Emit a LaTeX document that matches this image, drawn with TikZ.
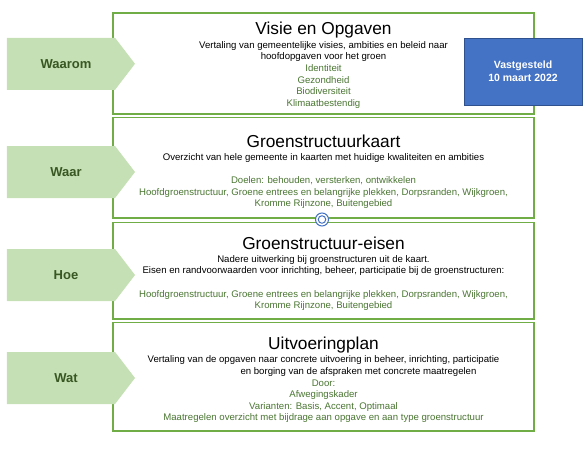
\documentclass[tikz,border=0pt]{standalone}
\usepackage{fontspec}
\setmainfont{Liberation Sans}
\usepackage{tikz}
\usetikzlibrary{shapes.symbols}
\definecolor{boxgreen}{HTML}{70AD47}
\definecolor{arrowgreen}{HTML}{C5E0B4}
\definecolor{darkgreen}{HTML}{385723}
\definecolor{textgreen}{HTML}{4A7632}
\definecolor{fillblue}{HTML}{4472C4}
\definecolor{lineblue}{HTML}{2F528F}
\tikzset{>=latex}
\tikzstyle{block}=[rectangle,draw=boxgreen,line width=1.3pt,fill=white,minimum width=421pt,inner sep=0pt]
\tikzstyle{question}=[signal,signal to=east,signal pointer angle=105,fill=arrowgreen,minimum width=128pt,minimum height=52pt,inner sep=0pt,font=\fontsize{13}{15}\selectfont\bfseries,text=darkgreen,execute at begin node=\hspace*{10pt}]
\tikzstyle{title}=[anchor=base,inner sep=0pt,font=\fontsize{17.3}{20}\selectfont]
\tikzstyle{body}=[anchor=north,inner sep=0pt,align=center,font=\fontsize{9.6}{11.6}\selectfont]
\tikzstyle{stamp}=[rectangle,draw=lineblue,fill=fillblue,minimum width=118pt,minimum height=67pt,align=center,text=white,font=\fontsize{10.5}{13}\selectfont\bfseries]
\tikzstyle{ring}=[circle,draw=fillblue,line width=1pt,fill=white,inner sep=0pt]

\begin{document}
\begin{tikzpicture}[x=1pt,y=-1pt]
	\useasboundingbox (0,0) rectangle (586,452);
	% the four blocks
	\node[block, minimum height=101pt] (visie) at (323.5, 63.5) {};
	\node[block, minimum height=100.3pt] (kaart) at (323.5, 167.9) {};
	\node[block, minimum height=96.3pt] (eisen) at (323.5, 270.9) {};
	\node[block, minimum height=108.3pt] (plan) at (323.5, 376.9) {};
	
	\node[title] (visietitle) at (323.5, 35) {Visie en Opgaven};
	\node[body] (visietext) at (323.5, 41.2) {Vertaling van gemeentelijke visies, ambities en beleid naar\\
		hoofdopgaven voor het groen\\
		\textcolor{textgreen}{Identiteit}\\
		\textcolor{textgreen}{Gezondheid}\\
		\textcolor{textgreen}{Biodiversiteit}\\
		\textcolor{textgreen}{Klimaatbestendig}};
	
	\node[title] (kaarttitle) at (323.5, 147) {Groenstructuurkaart};
	\node[body] (kaarttext) at (323.5, 153.2) {Overzicht van hele gemeente in kaarten met huidige kwaliteiten en ambities\\[11.6pt]
		\textcolor{textgreen}{Doelen: behouden, versterken, ontwikkelen}\\
		\textcolor{textgreen}{Hoofdgroenstructuur, Groene entrees en belangrijke plekken, Dorpsranden, Wijkgroen,}\\
		\textcolor{textgreen}{Kromme Rijnzone, Buitengebied}};
	
	\node[title] (eisentitle) at (323.5, 249) {Groenstructuur-eisen};
	\node[body] (eisentext) at (323.5, 255.2) {Nadere uitwerking bij groenstructuren uit de kaart.\\
		Eisen en randvoorwaarden voor inrichting, beheer, participatie bij de groenstructuren:\\[11.6pt]
		\textcolor{textgreen}{Hoofdgroenstructuur, Groene entrees en belangrijke plekken, Dorpsranden, Wijkgroen,}\\
		\textcolor{textgreen}{Kromme Rijnzone, Buitengebied}};
	
	\node[title] (plantitle) at (323.5, 349) {Uitvoeringplan};
	\node[body] (plantext) at (323.5, 355.7) {Vertaling van de opgaven naar concrete uitvoering in beheer, inrichting, participatie\\
		\hspace*{70pt}en borging van de afspraken met concrete maatregelen\\
		\textcolor{textgreen}{Door:}\\
		\textcolor{textgreen}{Afwegingskader}\\
		\textcolor{textgreen}{Varianten: Basis, Accent, Optimaal}\\
		\textcolor{textgreen}{Maatregelen overzicht met bijdrage aan opgave en aan type groenstructuur}};
	
	% questions on the left
	\node[question] (waarom) at (61, 63.8) {Waarom};
	\node[question] (waar) at (61, 172) {Waar};
	\node[question] (hoe) at (61, 275) {Hoe};
	\node[question] (wat) at (61, 378) {Wat};
	
	\node[stamp] (vastgesteld) at (523, 71.5) {Vastgesteld\\10 maart 2022};
	
	\node[ring, minimum size=13pt] (ringout) at (322, 219.5) {};
	\node[ring, minimum size=7.5pt] (ringin) at (ringout.center) {};
\end{tikzpicture}
\end{document}
